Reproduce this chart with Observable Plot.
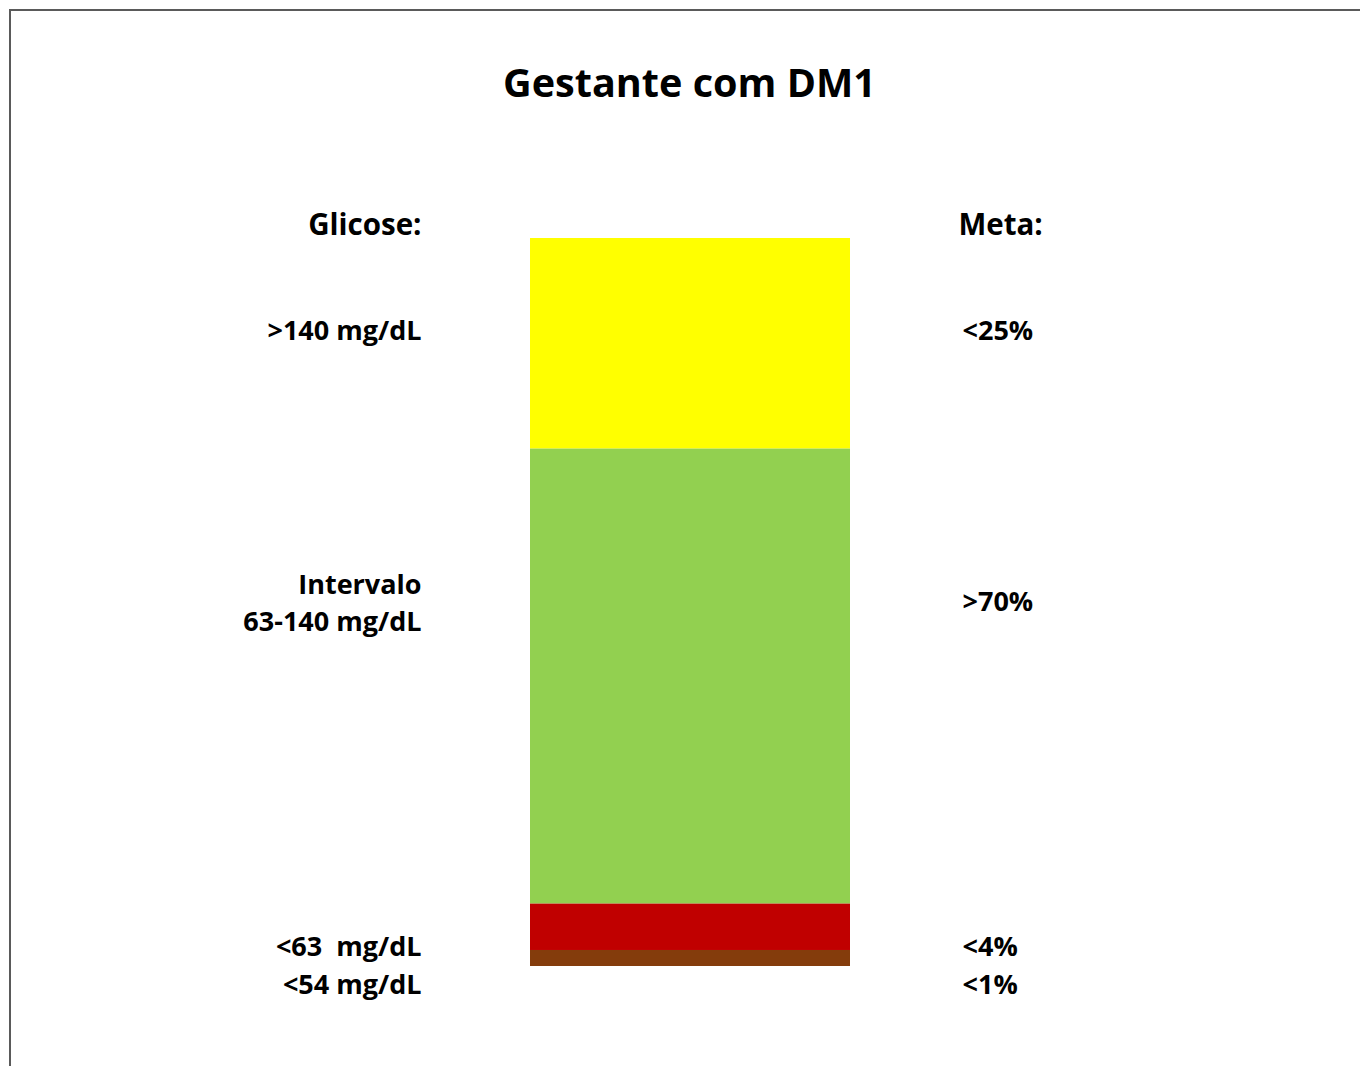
<!DOCTYPE html>
<html>
<head>
<meta charset="utf-8">
<script src="https://cdn.jsdelivr.net/npm/d3@7"></script>
<script src="https://cdn.jsdelivr.net/npm/@observablehq/plot@0.6"></script>
<style>
  html, body { margin: 0; padding: 0; background: #fff; }
  #wrap { position: relative; width: 1360px; height: 1066px; overflow: hidden; font-family: "Open Sans", sans-serif; }
  #border { position: absolute; left: 9px; top: 9px; width: 1400px; height: 1100px; border-left: 2px solid #5a5a5a; border-top: 2px solid #5a5a5a; }
  #title { position: absolute; left: 0; top: 55px; width: 1360px; padding-left: 19px; box-sizing: border-box; text-align: center; font-size: 39.6px; font-weight: 700; color: #000; }
  #chart { position: absolute; left: 0; top: 0; }
</style>
</head>
<body>
<div id="wrap">
  <div id="border"></div>
  <div id="chart"></div>
  <div id="title">Gestante com DM1</div>
</div>
<script>
// Data (bottom to top)
const segments = ["<54 mg/dL", "<63 mg/dL", "63-140 mg/dL", ">140 mg/dL"];
const shares = [2.2, 6.4, 62.5, 28.9];
const colors = ["#843C0C", "#C00000", "#92D050", "#FFFF00"];
const group = "DM1";

// Labels
const leftHeader = "Glicose:";
const rightHeader = "Meta:";
const leftLabels = [">140 mg/dL", "Intervalo", "63-140 mg/dL", "<63  mg/dL", "<54 mg/dL"];
const rightLabels = ["<25%", ">70%", "<4%", "<1%"];
// label anchor levels on the value axis
const headerLevel = 101.8;
const leftLevels = [87.2, 52.4, 47.3, 2.6, -2.6];
const rightLevels = [87.2, 50.0, 2.6, -2.6];

const rows = segments.map((s, i) => ({group, segment: s, share: shares[i], order: i}));
const leftRows = leftLabels.map((t, i) => ({group, text: t, v: leftLevels[i]}));
const rightRows = rightLabels.map((t, i) => ({group, text: t, v: rightLevels[i]}));
const headers = [{group, text: leftHeader, v: headerLevel, side: "left"}, {group, text: rightHeader, v: headerLevel, side: "right"}];

const chart = Plot.plot({
  width: 1360,
  height: 1066,
  margin: 0,
  style: {fontFamily: "'Open Sans', sans-serif", background: "transparent", overflow: "visible"},
  x: {type: "band", domain: [group], range: [530, 850], padding: 0, axis: null},
  y: {domain: [0, 100], range: [966, 238], axis: null},
  color: {domain: segments, range: colors},
  marks: [
    Plot.barY(rows, {x: "group", y: "share", fill: "segment", order: "order", inset: 0}),
    Plot.text(headers.filter(d => d.side === "left"), {x: "group", y: "v", text: "text", textAnchor: "end", dx: -269, fontSize: 29.5, fontWeight: 700, fill: "#000"}),
    Plot.text(headers.filter(d => d.side === "right"), {x: "group", y: "v", text: "text", textAnchor: "start", dx: 268, fontSize: 29.5, fontWeight: 700, fill: "#000"}),
    Plot.text(leftRows, {x: "group", y: "v", text: "text", textAnchor: "end", dx: -269, fontSize: 27, fontWeight: 700, fill: "#000"}),
    Plot.text(rightRows, {x: "group", y: "v", text: "text", textAnchor: "start", dx: 272, fontSize: 27, fontWeight: 700, fill: "#000"})
  ]
});
document.getElementById("chart").appendChild(chart);
</script>
</body>
</html>
